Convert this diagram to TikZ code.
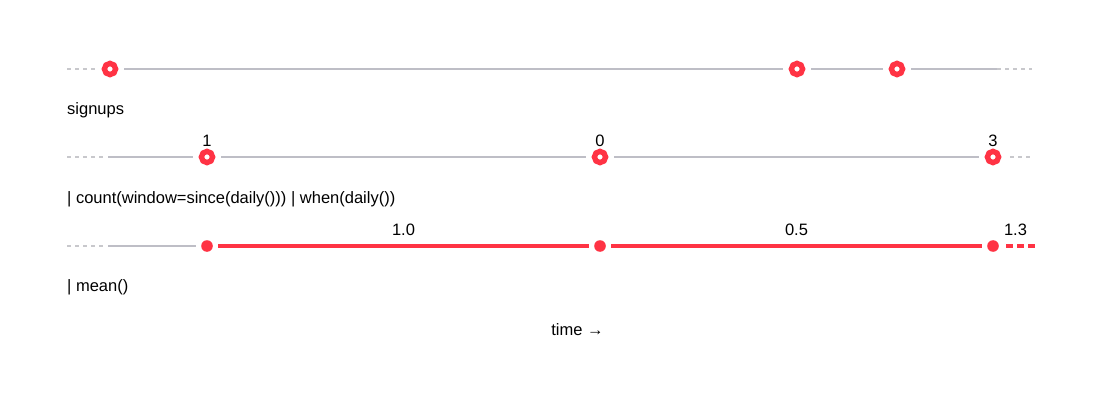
\documentclass[tikz,border=0pt]{standalone}
\usepackage{fontspec}
\setmainfont{Liberation Sans}
\usetikzlibrary{calc}
\definecolor{hotred}{RGB}{255,51,68}
\definecolor{axisgray}{RGB}{190,190,198}
\definecolor{dashgray}{RGB}{200,200,204}
\begin{document}
\begin{tikzpicture}[x=1pt,y=1pt,
	ring/.style={circle,draw=hotred,line width=5.4pt,fill=white,minimum size=11.2pt,inner sep=0pt,outer sep=8.7pt},
	dot/.style={circle,fill=hotred,minimum size=11.6pt,inner sep=0pt,outer sep=5.5pt},
	axis/.style={draw=axisgray,line width=1.3pt},
	axisdash/.style={draw=dashgray,line width=1.3pt,dash pattern=on 4pt off 4pt},
	hot/.style={draw=hotred,line width=4.8pt},
	hotdash/.style={hot,dash pattern=on 7pt off 4pt},
	lbl/.style={anchor=base,inner sep=0pt,font=\fontsize{16.5}{20}\selectfont},
	caption/.style={anchor=base west,inner sep=0pt,font=\fontsize{16.5}{20}\selectfont}]
	\useasboundingbox (0,0) rectangle (1104,-404);
	
	%signups
	\coordinate (s0) at (67,-69);
	\coordinate (s4) at (997,-69);
	\coordinate (s5) at (1032,-69);
	\node[ring] (r1) at (110,-69) {};
	\node[ring] (r2) at (797,-69) {};
	\node[ring] (r3) at (897,-69) {};
	\draw[axisdash] (s0) -- (r1);
	\draw[axis] (r1) -- (r2);
	\draw[axis] (r2) -- (r3);
	\draw[axis] (r3) -- (s4);
	\draw[axisdash] (s4) -- (s5);
	\node[caption] (cap1) at (67,-114) {signups};
	
	%count
	\coordinate (c0) at (67,-157);
	\coordinate (c0a) at (105,-157);
	\coordinate (c0b) at (108,-157);
	\coordinate (c4) at (1032,-157);
	\node[ring] (c1) at (207,-157) {};
	\node[ring] (c2) at (600,-157) {};
	\node[ring] (c3) at (993,-157) {};
	\draw[axisdash] (c0) -- (c0a);
	\draw[axis] (c0b) -- (c1);
	\draw[axis] (c1) -- (c2);
	\draw[axis] (c2) -- (c3);
	\draw[axisdash,shorten <=3pt] (c3) -- (c4);
	\node[lbl] (n1) at ($(c1)+(0,10.5)$) {1};
	\node[lbl] (n2) at ($(c2)+(0,10.5)$) {0};
	\node[lbl] (n3) at ($(c3)+(0,10.5)$) {3};
	\node[caption] (cap2) at (67,-203) {| count(window=since(daily())) | when(daily())};
	
	%mean
	\coordinate (m0) at (67,-246);
	\coordinate (m0a) at (105,-246);
	\coordinate (m0b) at (108,-246);
	\coordinate (m4) at (1038,-246);
	\node[dot] (d1) at (207,-246) {};
	\node[dot] (d2) at (600,-246) {};
	\node[dot] (d3) at (993,-246) {};
	\draw[axisdash] (m0) -- (m0a);
	\draw[axis] (m0b) -- (d1);
	\draw[hot] (d1) -- (d2);
	\draw[hot] (d2) -- (d3);
	\draw[hotdash,shorten <=2pt] (d3) -- (m4);
	\node[lbl] (v1) at ($(d1)!.5!(d2)+(0,10.5)$) {1.0};
	\node[lbl] (v2) at ($(d2)!.5!(d3)+(0,10.5)$) {0.5};
	\node[lbl] (v3) at ($(d3)!.5!(m4)+(0,10.5)$) {1.3};
	\node[caption] (cap3) at (67,-291) {| mean()};
	
	%axis label
	\node[lbl] (time) at (577.5,-335) {time →};
\end{tikzpicture}
\end{document}
